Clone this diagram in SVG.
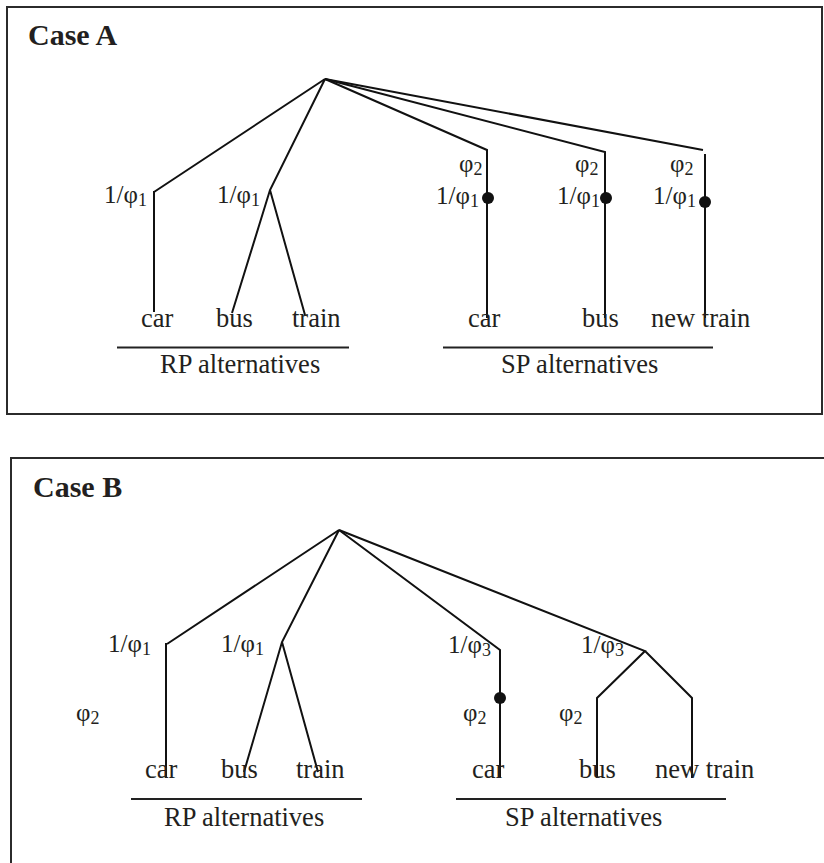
<svg xmlns="http://www.w3.org/2000/svg" width="824" height="863" viewBox="0 0 824 863">
<style>
.frame{fill:none;stroke:#2b2b2b;stroke-width:2}
.edge{fill:none;stroke:#111;stroke-width:2;stroke-linecap:butt}
.rule{stroke:#222;stroke-width:2}
.dot{fill:#111}
text{font-family:"Liberation Serif","Times New Roman",serif;fill:#231f20}
.t{font-size:26.5px}
.lab{font-size:25px}
.sub{font-size:18px}
.title{font-size:30px;font-weight:bold}
</style>
<rect width="824" height="863" fill="#fff"/>
<g id="caseA">
<rect class="frame" x="7" y="7" width="815" height="407"/>
<text class="title" x="28" y="45">Case A</text>
<g id="connectorsA">
<path class="edge" d="M325,79 L154,192 M154,191 L154,312"/>
<path class="edge" d="M325,79 L270,190 L232,313 M270,190 L305,315"/>
<path class="edge" d="M325,79 L487,150 L487,318"/>
<path class="edge" d="M325,79 L605,152 L605,318"/>
<path class="edge" d="M325,79 L703,150 M705,154 L705,318"/>
</g>
<g id="A-nest-rp-car"><text class="lab" x="104" y="203">1/φ<tspan class="sub" dy="3">1</tspan></text></g>
<g id="A-nest-rp-pt"><text class="lab" x="217" y="203">1/φ<tspan class="sub" dy="3">1</tspan></text></g>
<g id="A-nest-sp-car"><text class="lab" x="459" y="172">φ<tspan class="sub" dy="3">2</tspan></text><text class="lab" x="436" y="204">1/φ<tspan class="sub" dy="3">1</tspan></text><circle class="dot" cx="488" cy="198" r="6"/></g>
<g id="A-nest-sp-bus"><text class="lab" x="575" y="172">φ<tspan class="sub" dy="3">2</tspan></text><text class="lab" x="557" y="204">1/φ<tspan class="sub" dy="3">1</tspan></text><circle class="dot" cx="606" cy="198" r="6"/></g>
<g id="A-nest-sp-nt"><text class="lab" x="670" y="172">φ<tspan class="sub" dy="3">2</tspan></text><text class="lab" x="653" y="204">1/φ<tspan class="sub" dy="3">1</tspan></text><circle class="dot" cx="705" cy="202" r="6"/></g>
<g id="A-leaves">
<text class="t" x="141" y="327">car</text>
<text class="t" x="216" y="327">bus</text>
<text class="t" x="292" y="327">train</text>
<text class="t" x="468" y="327">car</text>
<text class="t" x="582" y="327">bus</text>
<text class="t" x="651" y="327">new train</text>
</g>
<g id="A-groups">
<line class="rule" x1="117" y1="347.5" x2="349" y2="347.5"/>
<text class="t" x="160" y="373">RP alternatives</text>
<line class="rule" x1="443" y1="347.5" x2="713" y2="347.5"/>
<text class="t" x="501" y="373">SP alternatives</text>
</g>
</g>
<g id="caseB">
<rect class="frame" x="11" y="458" width="830" height="420"/>
<text class="title" x="33" y="497">Case B</text>
<g id="connectorsB">
<path class="edge" d="M339,530 L167,644 M166,643 L166,778"/>
<path class="edge" d="M339,530 L282,642 L244,772 M282,642 L318,772"/>
<path class="edge" d="M339,530 L500,650 L500,778"/>
<path class="edge" d="M339,530 L645,651 L597,698 L597,778 M645,651 L692,698 L692,778"/>
</g>
<g id="B-nest-rp-car"><text class="lab" x="108" y="652">1/φ<tspan class="sub" dy="3">1</tspan></text></g>
<g id="B-nest-rp-pt"><text class="lab" x="221" y="652">1/φ<tspan class="sub" dy="3">1</tspan></text></g>
<g id="B-scale"><text class="lab" x="76" y="721">φ<tspan class="sub" dy="3">2</tspan></text></g>
<g id="B-nest-sp-car"><text class="lab" x="448" y="653">1/φ<tspan class="sub" dy="3">3</tspan></text><text class="lab" x="463" y="721">φ<tspan class="sub" dy="3">2</tspan></text><circle class="dot" cx="500" cy="698" r="6"/></g>
<g id="B-nest-sp-pt"><text class="lab" x="581" y="653">1/φ<tspan class="sub" dy="3">3</tspan></text><text class="lab" x="559" y="721">φ<tspan class="sub" dy="3">2</tspan></text></g>
<g id="B-leaves">
<text class="t" x="145" y="778">car</text>
<text class="t" x="221" y="778">bus</text>
<text class="t" x="296" y="778">train</text>
<text class="t" x="472" y="778">car</text>
<text class="t" x="579" y="778">bus</text>
<text class="t" x="655" y="778">new train</text>
</g>
<g id="B-groups">
<line class="rule" x1="131" y1="799" x2="362" y2="799"/>
<text class="t" x="164" y="826">RP alternatives</text>
<line class="rule" x1="456" y1="799" x2="726" y2="799"/>
<text class="t" x="505" y="826">SP alternatives</text>
</g>
</g>
</svg>
